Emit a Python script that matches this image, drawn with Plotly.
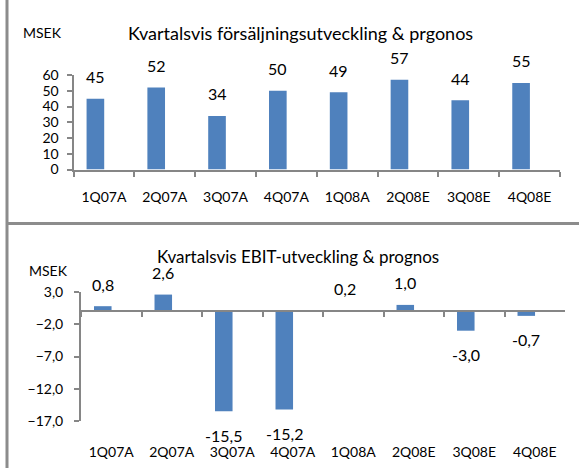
import plotly.graph_objects as go

categories = ["1Q07A", "2Q07A", "3Q07A", "4Q07A", "1Q08A", "2Q08E", "3Q08E", "4Q08E"]
sales = [45, 52, 34, 50, 49, 57, 44, 55]
ebit = [0.8, 2.6, -15.5, -15.2, 0.2, 1.0, -3.0, -0.7]

title_top = "Kvartalsvis försäljningsutveckling & prgonos"
title_bottom = "Kvartalsvis EBIT-utveckling & prognos"
unit = "MSEK"

W, H = 579, 468
BLUE = "#4f81bd"
AX = "#868686"
FONT = "Lato"

def px_x(v):
    return v / W

def px_y(v):
    return 1 - v / H

bar_w = 0.29
bar_center = -0.14

fig = go.Figure()
fig.add_trace(go.Bar(x=categories, y=sales, xaxis="x", yaxis="y",
                     marker=dict(color=BLUE, line=dict(width=0)),
                     width=bar_w, offset=bar_center - bar_w / 2, hoverinfo="skip"))
fig.add_trace(go.Bar(x=categories, y=ebit, xaxis="x2", yaxis="y2",
                     marker=dict(color=BLUE, line=dict(width=0)),
                     width=bar_w, offset=bar_center - bar_w / 2, hoverinfo="skip"))

top_ydom = [px_y(169.5), px_y(75)]
bot_ydom = [px_y(421), px_y(292)]
bot_range = [-17, 3]
zero_pos = bot_ydom[0] + (0 - bot_range[0]) / (bot_range[1] - bot_range[0]) * (bot_ydom[1] - bot_ydom[0])

tickfont = dict(family=FONT, size=14, color="#000000")

fig.update_layout(
    width=W, height=H, margin=dict(l=0, r=0, t=0, b=0, autoexpand=False),
    paper_bgcolor="white", plot_bgcolor="white",
    showlegend=False, separators=", ",
    font=dict(family=FONT, color="#000000"),
    xaxis=dict(domain=[px_x(73.5), px_x(560)], anchor="y", type="category",
               automargin=False,
               showline=True, linecolor=AX, linewidth=2, ticks="outside",
               tickson="boundaries", ticklen=5, tickcolor=AX, tickwidth=2,
               showgrid=False, tickfont=tickfont, ticklabelstandoff=14),
    yaxis=dict(domain=top_ydom, anchor="x", range=[0, 60], dtick=10,
               automargin=False,
               showline=True, linecolor=AX, linewidth=2, ticks="outside",
               ticklen=5, tickcolor=AX, tickwidth=2, showgrid=False,
               zeroline=False, ticklabelstandoff=5,
               tickfont=dict(family=FONT, size=14, color="#000000")),
    xaxis2=dict(domain=[px_x(81), px_x(565)], anchor="free", position=zero_pos,
                automargin=False,
                type="category", showline=True, linecolor=AX, linewidth=2,
                ticks="outside", tickson="boundaries", ticklen=5, tickcolor=AX,
                tickwidth=2, showgrid=False, showticklabels=False),
    xaxis3=dict(domain=[px_x(81), px_x(565)], anchor="y2", overlaying="x2",
                automargin=False,
                type="category", showline=False, ticks="", showgrid=False,
                tickfont=tickfont, ticklabelstandoff=21,
                categoryorder="array", categoryarray=categories,
                tickmode="array", tickvals=categories, ticktext=categories,
                range=[-0.5, len(categories) - 0.5]),
    yaxis2=dict(domain=bot_ydom, anchor="x2", range=bot_range, tick0=3, dtick=5,
                automargin=False,
                tickformat=".1f", showline=True, linecolor=AX, linewidth=2,
                ticks="outside", ticklen=5, tickcolor=AX, tickwidth=2,
                showgrid=False, zeroline=False, ticklabelstandoff=8,
                tickfont=dict(family=FONT, size=14, color="#000000")),
)
# invisible trace to activate xaxis3 (category labels of the lower chart)
fig.add_trace(go.Scatter(x=categories, y=[None] * len(categories), xaxis="x3", yaxis="y2",
                         mode="markers", marker=dict(opacity=0), hoverinfo="skip"))

ann = []
for i, v in enumerate(sales):
    ann.append(dict(x=i + bar_center, y=v, xref="x", yref="y", text=str(v),
                    showarrow=False, yshift=22, yanchor="middle",
                    font=dict(family=FONT, size=16)))
for i, v in enumerate(ebit):
    txt = f"{v:.1f}".replace(".", ",")
    ann.append(dict(x=i + bar_center, y=v, xref="x2", yref="y2", text=txt,
                    showarrow=False, yshift=22 if v >= 0 else -24, yanchor="middle",
                    font=dict(family=FONT, size=16)))

def label(x, y, text, size):
    return dict(x=px_x(x), y=px_y(y), xref="paper", yref="paper", text=text,
                xanchor="center", yanchor="middle", showarrow=False,
                font=dict(family=FONT, size=size))

ann.append(label(300, 33, title_top, 18))
ann.append(label(298, 256, title_bottom, 17))
ann.append(label(42, 33, unit, 14))
ann.append(label(48, 270, unit, 14))
fig.update_layout(annotations=ann)

fig.update_layout(shapes=[
    dict(type="line", xref="paper", yref="paper", x0=px_x(7), x1=px_x(7), y0=0, y1=1,
         line=dict(color="#8c8c8c", width=3)),
    dict(type="line", xref="paper", yref="paper", x0=px_x(7), x1=1, y0=px_y(223.5), y1=px_y(223.5),
         line=dict(color="#8c8c8c", width=3)),
])

fig.write_html("out.html", config={"displayModeBar": False, "staticPlot": True},
               post_script="document.body.style.margin='0';document.body.style.padding='0';")
